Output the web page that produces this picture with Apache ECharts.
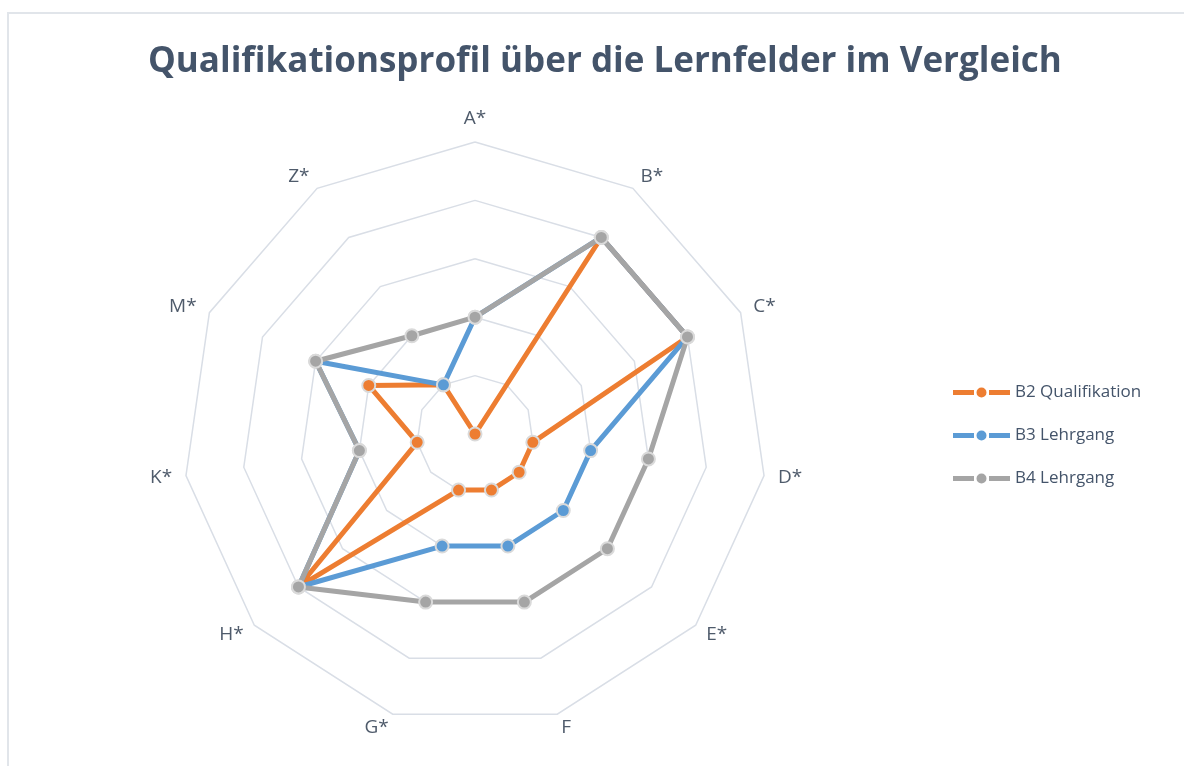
<!DOCTYPE html>
<html>
<head>
<meta charset="utf-8">
<title>Qualifikationsprofil</title>
<script src="https://cdn.jsdelivr.net/npm/echarts@6/dist/echarts.min.js"></script>
<style>
    html, body { margin: 0; padding: 0; background: #fff; }
    /* heller Rahmen wie im Excel-Diagramm */
    #frame {
        position: absolute; left: 7px; top: 12px; width: 1200px; height: 800px;
        border-top: 2px solid #E1E5EA; border-left: 2px solid #E1E5EA;
    }
    #radar { position: absolute; left: 0; top: 0; width: 1184px; height: 766px; }
</style>
</head>
<body>
<div id="frame"></div>
<div id="radar"></div>
<script>
//************************* Daten ******************************//
var categories = ['A*', 'B*', 'C*', 'D*', 'E*', 'F', 'G*', 'H*', 'K*', 'M*', 'Z*'];
var seriesNames = ['B2 Qualifikation', 'B3 Lehrgang', 'B4 Lehrgang'];
var b2Qualifikation = [0, 4, 4, 1, 1, 1, 1, 4, 1, 2, 1];
var b3Lehrgang = [2, 4, 4, 2, 2, 2, 2, 4, 2, 3, 1];
var b4Lehrgang = [2, 4, 4, 3, 3, 3, 3, 4, 2, 3, 2];
var seriesColors = ['#ED7D31', '#5B9BD5', '#A5A5A5'];
var maxValue = 5;

//echarts radar laeuft gegen den Uhrzeigersinn -> Reihenfolge umdrehen (A* bleibt oben)
function clockwise(arr){
    return [arr[0]].concat(arr.slice(1).reverse());
}

function buildSeries(values, idx){
    return {
        name: seriesNames[idx],
        type: 'radar',
        symbol: 'circle',
        symbolSize: 13,
        z: 2 + idx,
        lineStyle: { width: 5, color: seriesColors[idx] },
        itemStyle: { color: seriesColors[idx], borderColor: '#DADADA', borderWidth: 2 },
        data: [{ name: seriesNames[idx], value: clockwise(values) }]
    };
}

var textColor = '#44546A';
var font = '"Open Sans", "Noto Sans", sans-serif';
//Legendensymbol: Linie mit Punkt in der Mitte
var legendIcon = 'path://M0,2.5h21v5h-21z M36,2.5h21v5h-21z M23.5,5a5,5 0 1,1 10,0a5,5 0 1,1 -10,0z';

var myChart = echarts.init(document.getElementById('radar'));
var option = {
    animation: false,
    title: {
        text: 'Qualifikationsprofil über die Lernfelder im Vergleich',
        left: 143,
        top: 40,
        textStyle: { fontSize: 35, fontWeight: 'bold', color: textColor, fontFamily: font }
    },
    legend: {
        orient: 'vertical',
        left: 948,
        top: 379,
        itemWidth: 57,
        itemHeight: 10,
        itemGap: 26,
        icon: legendIcon,
        itemStyle: { borderWidth: 0 },
        data: seriesNames,
        textStyle: { fontSize: 17, color: textColor, fontFamily: font }
    },
    radar: {
        center: [475, 434],
        radius: 292,
        startAngle: 90,
        splitNumber: 5,
        shape: 'polygon',
        nameGap: 14,
        indicator: clockwise(categories).map(function(c){ return { name: c, min: 0, max: maxValue }; }),
        axisName: { color: '#4F5B6B', fontSize: 19, fontFamily: font },
        axisLine: { show: false },
        splitArea: { show: false },
        splitLine: { lineStyle: { color: '#D9DEE6', width: 1.5 } }
    },
    series: [
        buildSeries(b2Qualifikation, 0),
        buildSeries(b3Lehrgang, 1),
        buildSeries(b4Lehrgang, 2)
    ]
};
myChart.setOption(option);
window.onresize = myChart.resize;
</script>
</body>
</html>
